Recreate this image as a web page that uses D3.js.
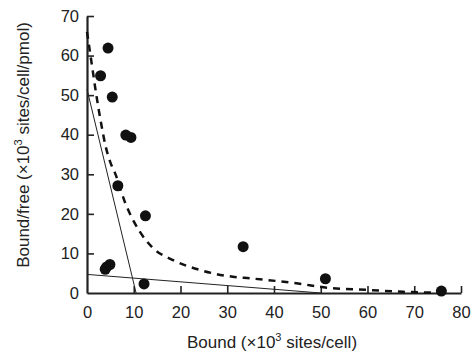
<!DOCTYPE html>
<html>
<head>
<meta charset="utf-8">
<script src="https://cdn.jsdelivr.net/npm/d3@7"></script>
<style>
  body { margin: 0; background: #fff; }
  svg { font-family: "Liberation Sans", Arial, sans-serif; }
</style>
</head>
<body>
<svg id="chart" width="472" height="355"></svg>
<script>
// scatchard plot: bound vs bound/free
const boundVals = [4.5, 2.9, 5.4, 8.3, 9.4, 6.6, 12.5, 3.9, 4.2, 4.9, 12.2, 33.4, 51.0, 75.8];
const ratioVals = [61.9, 54.9, 49.5, 39.9, 39.3, 27.1, 19.5, 6.0, 6.6, 7.2, 2.3, 11.7, 3.6, 0.5];

// fitted components (two straight lines) and combined curve
const highAffX = [0, 10.5];
const highAffY = [51.5, 0];
const lowAffX = [0, 50];
const lowAffY = [4.7, 0];
const curveX = [0, 1, 2, 3, 4, 5, 6, 8.1, 11.3, 14, 18.4, 24.2, 31.2, 34.9, 44.8, 51.3, 60.5, 67.6, 76];
const curveY = [66, 58, 50, 43, 37, 33, 30.3, 23, 15.5, 11.5, 8.3, 5.8, 4.1, 3.7, 2.45, 1.35, 0.75, 0.3, 0.05];

const xTicks = [0, 10, 20, 30, 40, 50, 60, 70, 80];
const yTicks = [0, 10, 20, 30, 40, 50, 60, 70];

const svg = d3.select("#chart"),
  margin = {top: 16, right: 11, bottom: 62, left: 87},
  width = +svg.attr("width") - margin.left - margin.right,
  height = +svg.attr("height") - margin.top - margin.bottom,
  g = svg.append("g").attr("transform", "translate(" + margin.left + "," + margin.top + ")");

const x = d3.scaleLinear().domain([0, 80]).range([0, width]);
const y = d3.scaleLinear().domain([0, 70]).range([height, 0]);

// axes with inward ticks
const xAxis = g.append("g")
  .attr("transform", "translate(0," + height + ")")
  .call(d3.axisBottom(x).tickValues(xTicks).tickSizeInner(-7).tickSizeOuter(0).tickPadding(13));
const yAxis = g.append("g")
  .call(d3.axisLeft(y).tickValues(yTicks).tickSizeInner(-7).tickSizeOuter(0).tickPadding(8));

[xAxis, yAxis].forEach(a => {
  a.select(".domain").attr("stroke", "#222").attr("stroke-width", 2.2);
  a.selectAll(".tick line").attr("stroke", "#222").attr("stroke-width", 1.6);
  a.selectAll(".tick text").attr("fill", "#222").attr("font-size", 16.5);
});
xAxis.selectAll(".tick").filter(d => d === 0).select("line").remove();
yAxis.selectAll(".tick").filter(d => d === 0).select("line").remove();

const line = d3.line().x(d => x(d[0])).y(d => y(d[1]));

g.append("path")
  .datum(d3.zip(highAffX, highAffY))
  .attr("d", line)
  .attr("fill", "none").attr("stroke", "#222").attr("stroke-width", 1);

g.append("path")
  .datum(d3.zip(lowAffX, lowAffY))
  .attr("d", line)
  .attr("fill", "none").attr("stroke", "#222").attr("stroke-width", 1);

g.append("path")
  .datum(d3.zip(curveX, curveY))
  .attr("d", line.curve(d3.curveMonotoneX))
  .attr("fill", "none").attr("stroke", "#111").attr("stroke-width", 2.5)
  .attr("stroke-dasharray", "7,6");

g.selectAll("circle")
  .data(d3.zip(boundVals, ratioVals))
  .enter().append("circle")
  .attr("cx", d => x(d[0]))
  .attr("cy", d => y(d[1]))
  .attr("r", 5.5)
  .attr("fill", "#111");

// axis titles
const xt = svg.append("text")
  .attr("x", 272).attr("y", 348)
  .attr("text-anchor", "middle")
  .attr("font-size", 17).attr("fill", "#222");
xt.append("tspan").text("Bound (\u00d710");
xt.append("tspan").attr("dy", -7).attr("font-size", 11).text("3");
xt.append("tspan").attr("dy", 7).text(" sites/cell)");

const yt = svg.append("text")
  .attr("transform", "translate(29,145) rotate(-90)")
  .attr("text-anchor", "middle")
  .attr("font-size", 17).attr("fill", "#222");
yt.append("tspan").text("Bound/free (\u00d710");
yt.append("tspan").attr("dy", -7).attr("font-size", 11).text("3");
yt.append("tspan").attr("dy", 7).text(" sites/cell/pmol)");
</script>
</body>
</html>
